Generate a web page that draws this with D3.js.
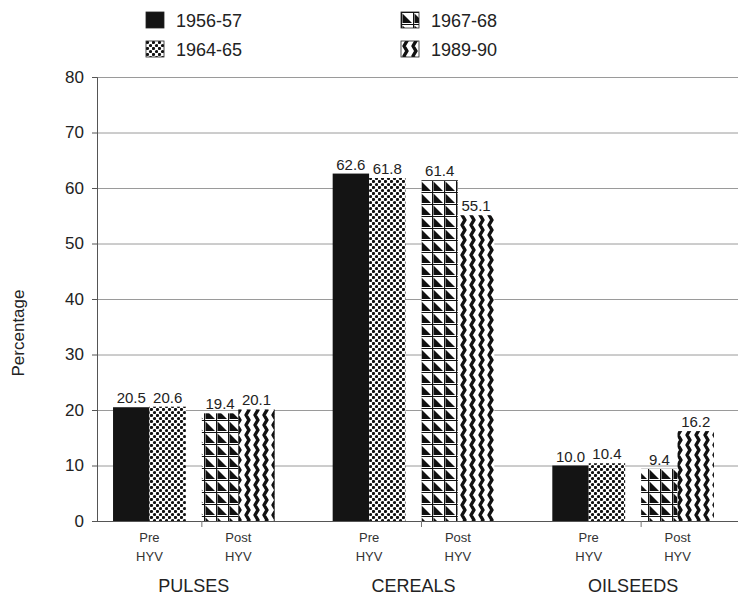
<!DOCTYPE html>
<html>
<head>
<meta charset="utf-8">
<script src="https://cdn.jsdelivr.net/npm/d3@7"></script>
<style>
  html, body { margin: 0; padding: 0; background: #fff; }
  svg { display: block; font-family: "Liberation Sans", Arial, Helvetica, sans-serif; }
</style>
</head>
<body>
<svg id="chart" width="742" height="597"></svg>
<script>
// ---- data ----
const categories = ["PULSES", "CEREALS", "OILSEEDS"];
const periods = ["Pre HYV", "Post HYV"];
const seriesNames = ["1956-57", "1964-65", "1967-68", "1989-90"];
const seriesPeriod = [0, 0, 1, 1];
const pulsesValues = [20.5, 20.6, 19.4, 20.1];
const cerealsValues = [62.6, 61.8, 61.4, 55.1];
const oilseedsValues = [10.0, 10.4, 9.4, 16.2];
const yTicks = [0, 10, 20, 30, 40, 50, 60, 70, 80];
const valueTable = [pulsesValues, cerealsValues, oilseedsValues];

// ---- layout ----
const svg = d3.select("#chart");
const plotLeft = 97, plotRight = 738, plotTop = 77, plotBottom = 521;

const x0 = d3.scaleBand().domain(categories).range([plotLeft, 730])
  .paddingInner(0.264).paddingOuter(0.073);
const x1 = d3.scaleBand().domain(periods).range([0, x0.bandwidth()])
  .paddingInner(0.18).paddingOuter(0);
const x2 = d3.scaleBand().domain([0, 1]).range([0, x1.bandwidth()]).padding(0);
const y = d3.scaleLinear().domain([0, 80]).range([plotBottom, plotTop]);

// ---- patterns ----
const defs = svg.append("defs");
const fills = ["#141414", "url(#pChecker)", "url(#pTri)", "url(#pZig)"];

const pc = defs.append("pattern").attr("id", "pChecker").attr("patternUnits", "userSpaceOnUse")
  .attr("width", 6).attr("height", 6);
pc.append("rect").attr("width", 6).attr("height", 6).attr("fill", "#fff");
pc.append("circle").attr("cx", 1.5).attr("cy", 1.5).attr("r", 1.6).attr("fill", "#111");
pc.append("circle").attr("cx", 4.5).attr("cy", 4.5).attr("r", 1.6).attr("fill", "#111");

const pt = defs.append("pattern").attr("id", "pTri").attr("patternUnits", "userSpaceOnUse")
  .attr("width", 12).attr("height", 12);
pt.append("rect").attr("width", 12).attr("height", 12).attr("fill", "#fff");
pt.append("path").attr("d", "M1.5,1.5 L1.5,11 L11,11 Z").attr("fill", "#111");
pt.append("path").attr("d", "M0,0.5 H12 M0.5,0 V12").attr("stroke", "#111").attr("stroke-width", 1.2);

const pz = defs.append("pattern").attr("id", "pZig").attr("patternUnits", "userSpaceOnUse")
  .attr("width", 9).attr("height", 10);
pz.append("rect").attr("width", 9).attr("height", 10).attr("fill", "#fff");
pz.append("path").attr("d", "M3,-5 L6,0 L3,5 L6,10 L3,15")
  .attr("fill", "none").attr("stroke", "#111").attr("stroke-width", 3.4)
  .attr("stroke-linejoin", "round");

// ---- grid ----
svg.append("g").selectAll("line").data(yTicks.filter(d => d > 0)).join("line")
  .attr("x1", plotLeft).attr("x2", plotRight)
  .attr("y1", d => y(d) + 0.5).attr("y2", d => y(d) + 0.5)
  .attr("stroke", "#9a9a9a").attr("stroke-width", 1);

// ---- y axis ----
const yAxis = d3.axisLeft(y).tickValues(yTicks).tickSize(5).tickPadding(8).tickFormat(d3.format("d"));
const ya = svg.append("g").attr("transform", `translate(${plotLeft},0)`).call(yAxis);
ya.select(".domain").attr("stroke", "#555");
ya.selectAll(".tick line").attr("stroke", "#555");
ya.selectAll(".tick text").attr("font-size", 17).attr("fill", "#222")
  .attr("font-family", "'Liberation Sans', Arial, sans-serif");

// ---- bars ----
const flat = [];
categories.forEach((c, ci) => {
  seriesNames.forEach((s, si) => {
    flat.push({ cat: c, si, value: valueTable[ci][si] });
  });
});
const barX = d => x0(d.cat) + x1(periods[seriesPeriod[d.si]]) + x2(d.si % 2);

svg.append("g").selectAll("rect").data(flat).join("rect")
  .attr("x", barX).attr("width", x2.bandwidth())
  .attr("y", d => y(d.value)).attr("height", d => y(0) - y(d.value))
  .attr("fill", d => fills[d.si]);

// value labels
svg.append("g").selectAll("text").data(flat).join("text")
  .attr("x", d => barX(d) + x2.bandwidth() / 2)
  .attr("y", d => y(d.value) - 4)
  .attr("text-anchor", "middle").attr("font-size", 15).attr("fill", "#222")
  .text(d => d3.format(".1f")(d.value));

// ---- x axis ----
svg.append("line").attr("x1", plotLeft).attr("x2", plotRight)
  .attr("y1", plotBottom + 0.5).attr("y2", plotBottom + 0.5).attr("stroke", "#555");
svg.append("g").selectAll("line").data(categories).join("line")
  .attr("x1", c => x0(c) + x1(periods[1])).attr("x2", c => x0(c) + x1(periods[1]))
  .attr("y1", plotBottom).attr("y2", plotBottom + 6).attr("stroke", "#777");

// period labels
const subs = [];
categories.forEach(c => periods.forEach(p => subs.push({ c, p })));
const sg = svg.append("g").selectAll("text").data(subs).join("text")
  .attr("text-anchor", "middle").attr("font-size", 13).attr("fill", "#333")
  .attr("x", d => x0(d.c) + x1(d.p) + x1.bandwidth() / 2);
sg.append("tspan").attr("y", 542).text(d => d.p.split(" ")[0]);
sg.append("tspan").attr("x", d => x0(d.c) + x1(d.p) + x1.bandwidth() / 2)
  .attr("y", 561).text(d => d.p.split(" ")[1]);

// category labels
svg.append("g").selectAll("text").data(categories).join("text")
  .attr("x", c => x0(c) + x0.bandwidth() / 2).attr("y", 592)
  .attr("text-anchor", "middle").attr("font-size", 18).attr("fill", "#222")
  .text(c => c);

// y title
svg.append("text").attr("transform", "translate(24,333) rotate(-90)")
  .attr("text-anchor", "middle").attr("font-size", 17).attr("fill", "#222")
  .text("Percentage");

// ---- legend ----
const legendPos = [[146, 12], [146, 41], [401, 12], [401, 41]];
const lg = svg.append("g").selectAll("g").data(seriesNames).join("g")
  .attr("transform", (d, i) => `translate(${legendPos[i][0]},${legendPos[i][1]})`);
lg.append("rect").attr("width", 18).attr("height", 16)
  .attr("fill", (d, i) => fills[i]).attr("stroke", "#222").attr("stroke-width", 0.8);
lg.append("text").attr("x", 30).attr("y", 15).attr("font-size", 18).attr("fill", "#222")
  .text(d => d);
</script>
</body>
</html>
